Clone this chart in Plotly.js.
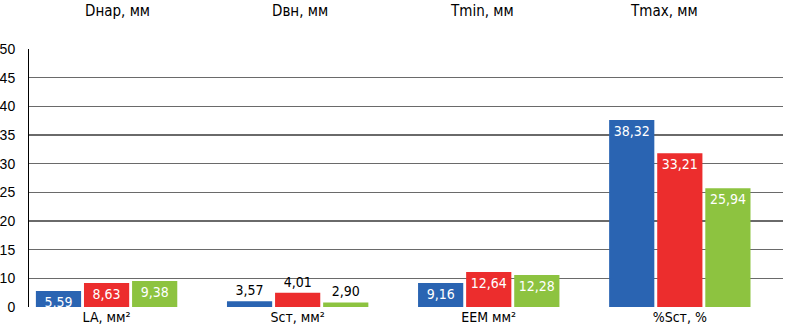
<!DOCTYPE html>
<html>
<head>
<meta charset="utf-8">
<script src="https://cdn.plot.ly/plotly-3.0.1.min.js"></script>
<style>html,body{margin:0;padding:0;background:#fff;}#chart{width:785px;height:328px;}</style>
</head>
<body>
<div id="chart"></div>
<script>
// Categories (bottom) and header labels (top)
const categories = ["LA, мм²", "Sст, мм²", "EEM мм²", "%Sст, %"];
const topLabels = ["Dнар, мм", "Dвн, мм", "Tmin, мм", "Tmax, мм"];

// Bar tops as they appear against the drawn grid
const blueValues  = [7.8, 6.0, 9.2, 37.6];
const redValues   = [9.2, 7.5, 11.1, 31.8];
const greenValues = [9.55, 5.8, 10.6, 25.7];

// Printed data labels
const blueLabels  = ["5,59", "3,57", "9,16", "38,32"];
const redLabels   = ["8,63", "4,01", "12,64", "33,21"];
const greenLabels = ["9,38", "2,90", "12,28", "25,94"];

// Y tick positions and their printed labels
const tickVals = [5, 10, 15, 20, 25, 30, 35, 40, 45, 50];
const tickText = ["0", "10", "15", "20", "25", "30", "35", "40", "45", "50"];

const labelPos = ["inside", "outside", "inside", "inside"];
const narrow = "'Liberation Sans Narrow', 'Arial Narrow', 'DejaVu Sans Condensed', sans-serif";

function mk(vals, labels, color) {
  return {
    type: "bar",
    x: categories,
    y: vals,
    text: labels,
    textposition: labelPos,
    insidetextanchor: "end",
    textangle: 0,
    insidetextfont: {family: narrow, size: 14, color: "#ffffff"},
    outsidetextfont: {family: narrow, size: 14, color: "#000000"},
    marker: {color: color},
    cliponaxis: false,
    hoverinfo: "none"
  };
}

const data = [
  mk(blueValues, blueLabels, "#2a64b2"),
  mk(redValues, redLabels, "#ec2d2d"),
  mk(greenValues, greenLabels, "#8dc340")
];

const annotations = topLabels.map((t, i) => ({
  text: t, xref: "paper", yref: "paper",
  x: 0.118 + i * 0.2414, y: 1.147, xanchor: "center", yanchor: "middle",
  showarrow: false, font: {family: narrow, size: 15, color: "#000"}
}));

const layout = {
  width: 785, height: 328,
  margin: {l: 29, r: 2, t: 49, b: 21, pad: 0},
  paper_bgcolor: "#fff", plot_bgcolor: "#fff",
  showlegend: false,
  barmode: "group",
  bargap: 0.245,
  bargroupgap: 0.06,
  xaxis: {
    type: "category",
    range: [-0.406, 3.54],
    showgrid: false,
    showline: false,
    ticks: "",
    tickfont: {family: narrow, size: 14, color: "#000"},
    ticklabelstandoff: 0
  },
  yaxis: {
    range: [5, 50],
    tickvals: tickVals,
    ticktext: tickText,
    showgrid: true,
    gridcolor: "#6a6a6a",
    gridwidth: 1.5,
    zeroline: false,
    showline: true,
    linecolor: "#000",
    linewidth: 1,
    ticks: "",
    ticklabelstandoff: 10,
    tickfont: {family: "'Liberation Sans', Arial, sans-serif", size: 14, color: "#000"}
  },
  annotations: annotations
};

Plotly.newPlot("chart", data, layout, {displayModeBar: false, staticPlot: true});
</script>
</body>
</html>
